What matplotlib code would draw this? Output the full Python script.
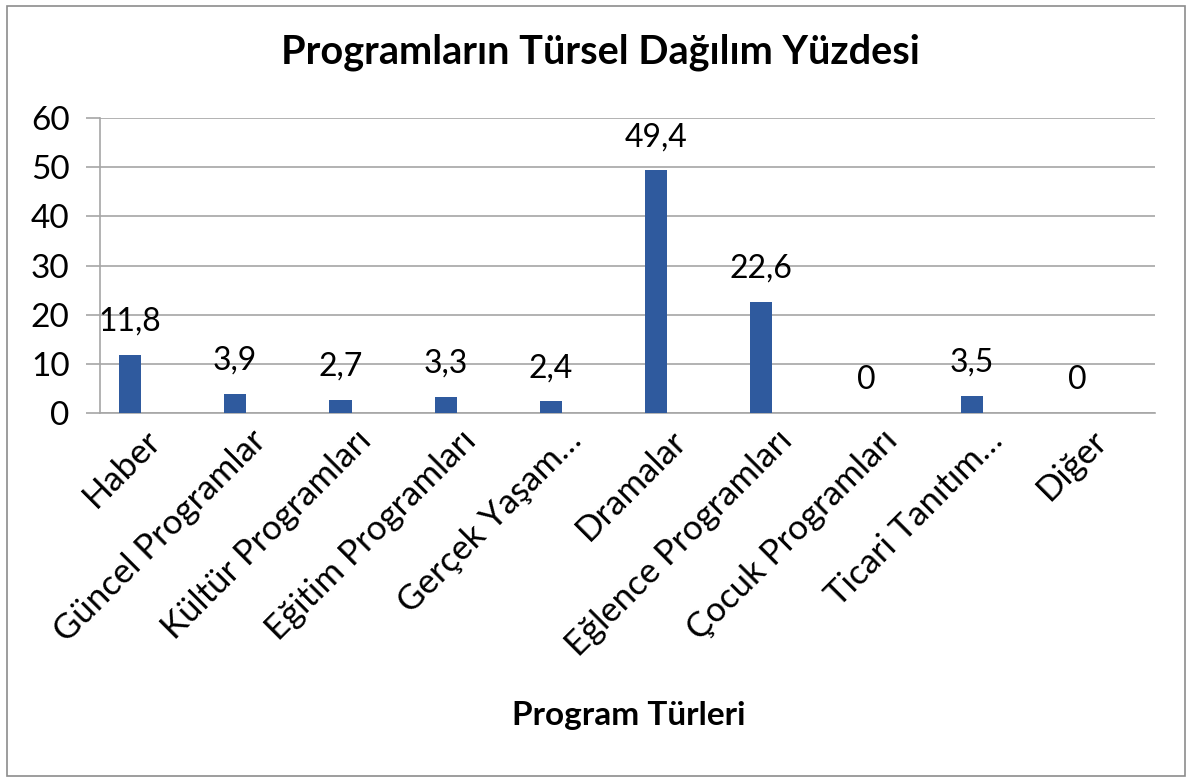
import matplotlib.pyplot as plt
from matplotlib.patches import Rectangle
from matplotlib.transforms import ScaledTranslation

categories = ["Haber", "Güncel Programlar", "Kültür Programları", "Eğitim Programları",
              "Gerçek Yaşam…", "Dramalar", "Eğlence Programları", "Çocuk Programları",
              "Ticari Tanıtım…", "Diğer"]
values = [11.8, 3.9, 2.7, 3.3, 2.4, 49.4, 22.6, 0, 3.5, 0]
value_labels = ["11,8", "3,9", "2,7", "3,3", "2,4", "49,4", "22,6", "0", "3,5", "0"]
yticks = [0, 10, 20, 30, 40, 50, 60]

plt.rcParams['font.family'] = ['Lato', 'DejaVu Sans']

fig = plt.figure(figsize=(11.92, 7.82), dpi=100)
ax = fig.add_axes([100 / 1192, 1 - 413 / 782, 1055 / 1192, 295 / 782])

x = range(len(categories))
ax.bar(x, values, width=0.21, color="#2F5A9E", zorder=3)

for i, (v, lab) in enumerate(zip(values, value_labels)):
    ax.annotate(lab, (i, v), xytext=(0, 13), textcoords="offset points",
                ha="center", va="bottom", fontsize=23)

ax.set_xlim(-0.285, 9.74)
ax.set_ylim(0, 60)
ax.set_yticks(yticks)
ax.set_yticklabels([str(t) for t in yticks], fontsize=24)
ax.yaxis.grid(True, color="#A6A6A6", linewidth=1.2, zorder=0)
ax.tick_params(axis="y", length=10, color="#A6A6A6", width=1.2, pad=12)
ax.tick_params(axis="x", length=0, pad=8)

ax.set_xticks(list(x))
ax.set_xticklabels(categories, rotation=45, ha="right", rotation_mode="anchor", fontsize=25)
# shift rotated labels a bit to the right, like the original
shift = ScaledTranslation(14 / 100, 0, fig.dpi_scale_trans)
for lbl in ax.get_xticklabels():
    lbl.set_transform(lbl.get_transform() + shift)

for side in ["top", "right"]:
    ax.spines[side].set_visible(False)
for side in ["left", "bottom"]:
    ax.spines[side].set_color("#A6A6A6")
    ax.spines[side].set_linewidth(1.2)

fig.text(600 / 1192, 1 - 52 / 782, "Programların Türsel Dağılım Yüzdesi",
         ha="center", va="center", fontsize=28.5, fontweight="bold")
fig.text(629 / 1192, 1 - 715 / 782, "Program Türleri",
         ha="center", va="center", fontsize=24, fontweight="bold")

fig.patches.append(Rectangle((7 / 1192, 6 / 782), 1178 / 1192, 770 / 782,
                             transform=fig.transFigure, fill=False,
                             edgecolor="#8C8C8C", linewidth=1.2))

fig.savefig("out.png", dpi=100)
